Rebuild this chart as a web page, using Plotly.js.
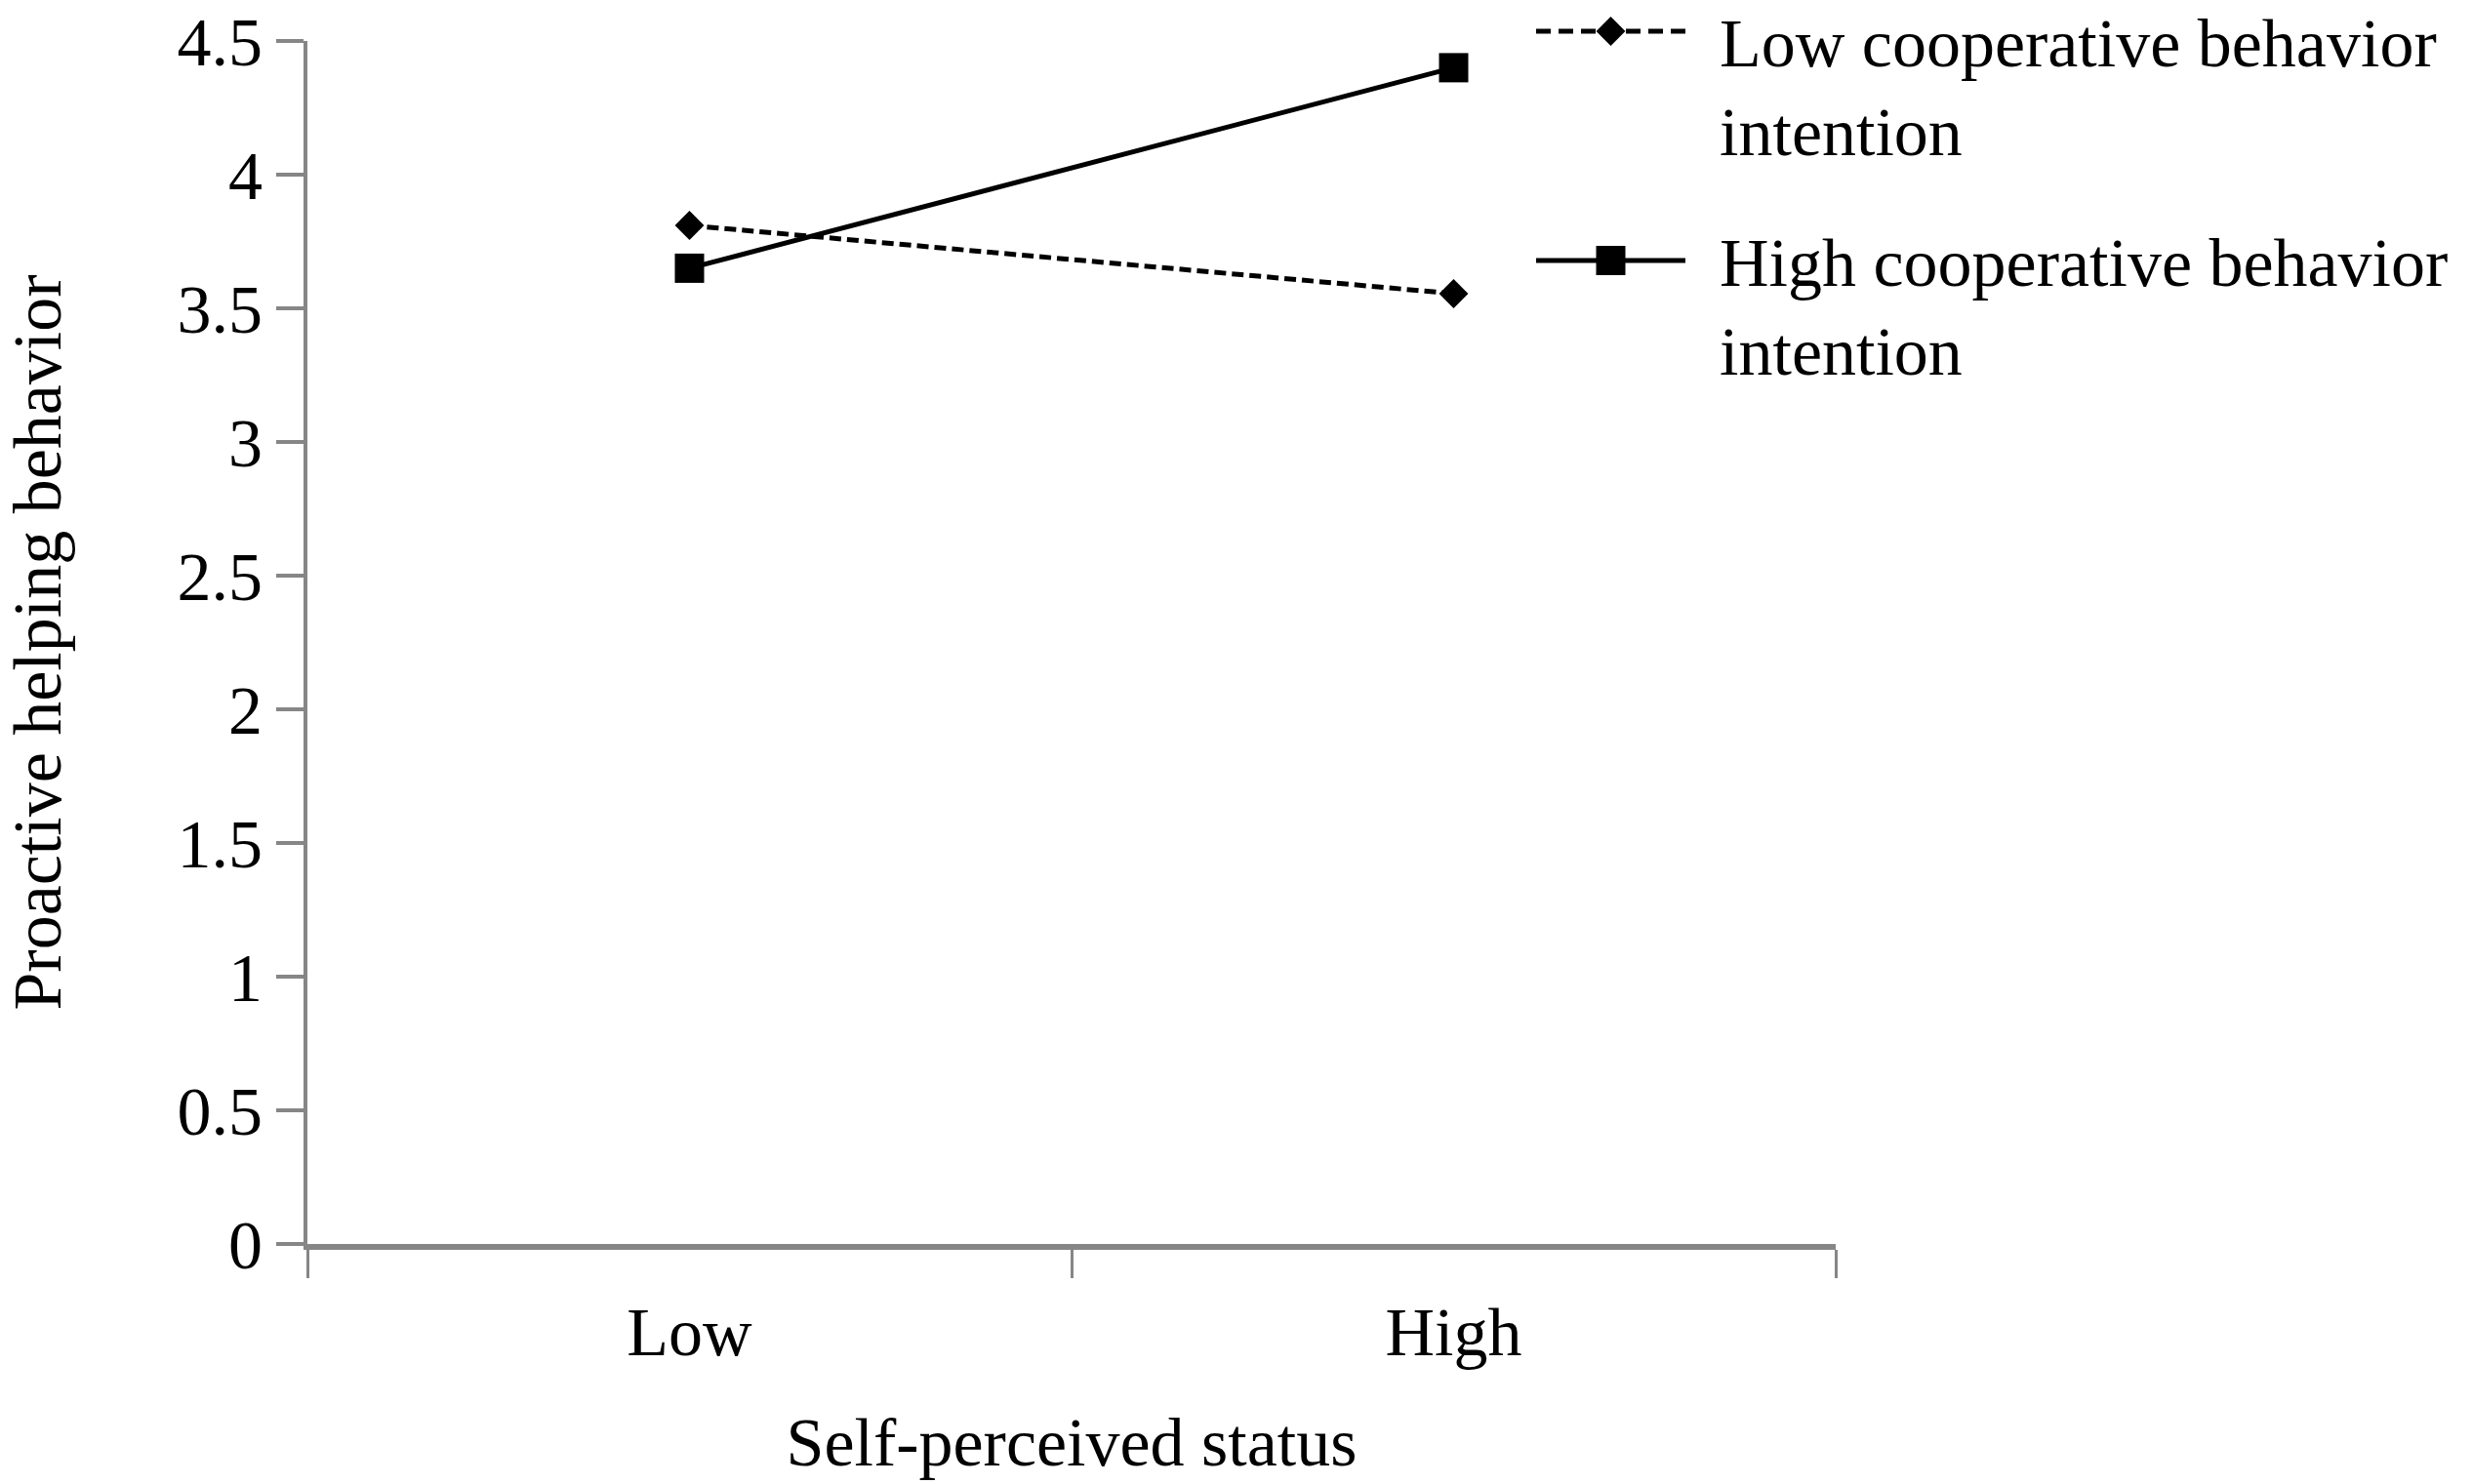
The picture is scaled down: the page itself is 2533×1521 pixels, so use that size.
<!DOCTYPE html>
<html>
<head>
<meta charset="utf-8">
<script src="https://cdn.plot.ly/plotly-3.0.1.min.js"></script>
<style>
  html, body { margin: 0; padding: 0; background: #fff; }
</style>
</head>
<body>
<div id="chart" style="width:2533px;height:1521px"></div>
<script>
// x axis: self-perceived status
var statusLevels = ['Low', 'High'];

// proactive helping behavior per cooperative behavior intention group
var seriesNames = ['Low cooperative behavior<br>intention', 'High cooperative behavior<br>intention'];
var lowCooperation = [3.81, 3.555];
var highCooperation = [3.65, 4.40];

var yTicks = [0, 0.5, 1, 1.5, 2, 2.5, 3, 3.5, 4, 4.5];

var W = 2533, H = 1521;
var FONT = '"Liberation Serif", "Times New Roman", serif';
var GRAY = '#868686';

// pixel -> paper helpers (margins are zero, so paper == whole figure)
function px(x) { return x / W; }
function py(y) { return 1 - y / H; }

var styles = [
  { line: { color: '#000', width: 5, dash: '12px,6px' }, legendDash: '15px,8px', marker: { symbol: 'diamond', size: 23, color: '#000' } },
  { line: { color: '#000', width: 5 }, legendDash: 'solid', marker: { symbol: 'square', size: 30, color: '#000' } }
];
var values = [lowCooperation, highCooperation];

var traces = values.map(function (v, i) {
  return {
    type: 'scatter',
    mode: 'lines+markers',
    x: statusLevels,
    y: v,
    name: seriesNames[i],
    line: styles[i].line,
    marker: styles[i].marker,
    showlegend: false,
    cliponaxis: false
  };
});

// legend drawn on its own hidden axes so the sample line can be long like the original
var legendTraces = [];
values.forEach(function (v, i) {
  var row = 1 - i;
  legendTraces.push({
    type: 'scatter', mode: 'lines', xaxis: 'x2', yaxis: 'y2',
    x: [0, 1], y: [row, row],
    line: { color: '#000', width: 5, dash: styles[i].legendDash },
    showlegend: false, hoverinfo: 'skip', cliponaxis: false
  });
  legendTraces.push({
    type: 'scatter', mode: 'markers', xaxis: 'x2', yaxis: 'y2',
    x: [0.5], y: [row],
    marker: styles[i].marker,
    showlegend: false, hoverinfo: 'skip', cliponaxis: false
  });
});

// first entry nudged down a little so its text box stays inside the figure
var legendShift = [-58, -48];
var legendText = seriesNames.map(function (name, i) {
  return {
    xref: 'paper', yref: 'y2',
    x: px(1760), y: 1 - i,
    xanchor: 'left', yanchor: 'middle',
    yshift: legendShift[i],
    align: 'left',
    showarrow: false,
    text: name,
    font: { family: FONT, size: 70, color: '#000' }
  };
});

var layout = {
  width: W,
  height: H,
  margin: { l: 0, r: 0, t: 0, b: 0 },
  paper_bgcolor: '#fff',
  plot_bgcolor: 'rgba(0,0,0,0)',
  font: { family: FONT, size: 70, color: '#000' },
  showlegend: false,
  xaxis: {
    domain: [px(315), px(1881)],
    type: 'category',
    range: [-0.5, 1.5],
    showline: true,
    linecolor: GRAY,
    linewidth: 6,
    ticks: 'outside',
    tickson: 'boundaries',
    ticklen: 29,
    tickwidth: 3,
    tickcolor: GRAY,
    ticklabelstandoff: 24,
    showgrid: false,
    zeroline: false,
    automargin: false,
    tickfont: { family: FONT, size: 70, color: '#000' },
    title: { text: 'Self-perceived status', font: { family: FONT, size: 70, color: '#000' }, standoff: 52 }
  },
  yaxis: {
    domain: [py(1275), py(42)],
    range: [0, 4.5],
    tickvals: yTicks,
    showline: true,
    linecolor: GRAY,
    linewidth: 4,
    ticks: 'outside',
    ticklen: 28,
    tickwidth: 4,
    tickcolor: GRAY,
    showgrid: false,
    zeroline: false,
    automargin: false,
    tickfont: { family: FONT, size: 70, color: '#000' },
    title: { text: 'Proactive helping behavior', font: { family: FONT, size: 70, color: '#000' }, standoff: 100 }
  },
  xaxis2: {
    domain: [px(1566.35), px(1734.65)],
    range: [-0.05, 1.05],
    anchor: 'y2',
    visible: false
  },
  yaxis2: {
    domain: [py(290.5), py(8.5)],
    range: [-0.1, 1.1],
    anchor: 'x2',
    visible: false
  },
  annotations: legendText
};

Plotly.newPlot('chart', traces.concat(legendTraces), layout, { displayModeBar: false, staticPlot: true });
</script>
</body>
</html>
